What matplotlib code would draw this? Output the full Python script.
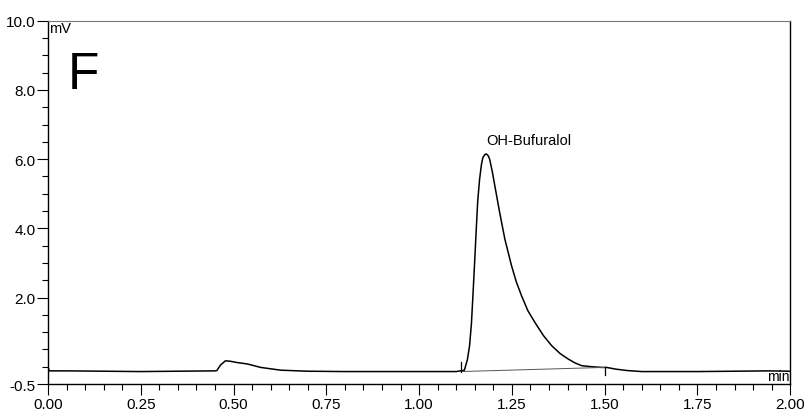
import matplotlib.pyplot as plt
from matplotlib.ticker import MultipleLocator, FixedLocator, FormatStrFormatter

plt.rcParams['font.family'] = ['Liberation Sans', 'DejaVu Sans']

# chromatogram trace (min, mV)
timeMin = [0.000, 0.004, 0.05, 0.15, 0.25, 0.35, 0.45, 0.455, 0.465, 0.478, 0.49,
           0.51, 0.537, 0.573, 0.627, 0.70, 0.80, 0.90, 1.00, 1.10, 1.122,
           1.130, 1.136, 1.141, 1.145, 1.150, 1.154, 1.158, 1.163, 1.168, 1.172,
           1.177, 1.181, 1.186, 1.190, 1.197, 1.204, 1.217, 1.231, 1.249, 1.262,
           1.276, 1.293, 1.312, 1.335, 1.357, 1.380, 1.402, 1.420, 1.438, 1.465,
           1.492, 1.505, 1.53, 1.56, 1.60, 1.70, 1.75, 1.85, 1.94, 2.00]
signalMv = [-0.02, -0.12, -0.12, -0.13, -0.14, -0.13, -0.12, -0.11, 0.05, 0.17, 0.16,
            0.12, 0.08, -0.02, -0.10, -0.13, -0.14, -0.14, -0.14, -0.14, -0.10,
            0.20, 0.61, 1.25, 2.05, 3.10, 3.98, 4.80, 5.42, 5.85, 6.05,
            6.13, 6.15, 6.10, 6.00, 5.65, 5.23, 4.46, 3.69, 2.92, 2.45,
            2.05, 1.62, 1.28, 0.90, 0.61, 0.38, 0.22, 0.11, 0.03, 0.00,
            -0.02, -0.02, -0.07, -0.11, -0.14, -0.14, -0.14, -0.13, -0.12, -0.13]

# integration baseline and peak marks
baseX = [1.113, 1.50]
baseY = [-0.14, -0.02]
startMark = [-0.14, 0.15]
endMark = [-0.02, -0.25]

peakName = 'OH-Bufuralol'
peakLabelPos = (1.295, 6.35)

yMajor = [-0.5, 2.0, 4.0, 6.0, 8.0, 10.0]

fig = plt.figure(figsize=(8.08, 4.14), dpi=100)
ax = fig.add_axes([0.0594, 0.070, 0.9186, 0.8776])

ax.plot(timeMin, signalMv, color='black', lw=1.1)
ax.plot(baseX, baseY, color='#555555', lw=0.7)
ax.plot([baseX[0], baseX[0]], startMark, color='black', lw=0.9)
ax.plot([baseX[1], baseX[1]], endMark, color='black', lw=0.9)

ax.text(peakLabelPos[0], peakLabelPos[1], peakName, ha='center', va='bottom', fontsize=10.5)
ax.text(0.052, 9.15, 'F', fontsize=37, ha='left', va='top')
ax.text(0.004, 9.98, 'mV', fontsize=10.5, ha='left', va='top')
ax.text(1.997, -0.46, 'min', fontsize=10, ha='right', va='bottom')

ax.set_xlim(0, 2.0)
ax.set_ylim(-0.5, 10.0)
ax.xaxis.set_major_locator(MultipleLocator(0.25))
ax.xaxis.set_minor_locator(MultipleLocator(0.05))
ax.xaxis.set_major_formatter(FormatStrFormatter('%.2f'))
ax.yaxis.set_major_locator(FixedLocator(yMajor))
ax.yaxis.set_minor_locator(MultipleLocator(0.5))
ax.yaxis.set_major_formatter(FormatStrFormatter('%.1f'))

ax.tick_params(which='major', direction='out', length=8, width=0.8, labelsize=11, pad=1)
ax.tick_params(which='minor', direction='out', length=4, width=0.8)

for side in ['left', 'bottom', 'right']:
    ax.spines[side].set_linewidth(1.0)
ax.spines['top'].set_color('#777777')
ax.spines['top'].set_linewidth(0.8)

fig.savefig('out.png', dpi=100)
